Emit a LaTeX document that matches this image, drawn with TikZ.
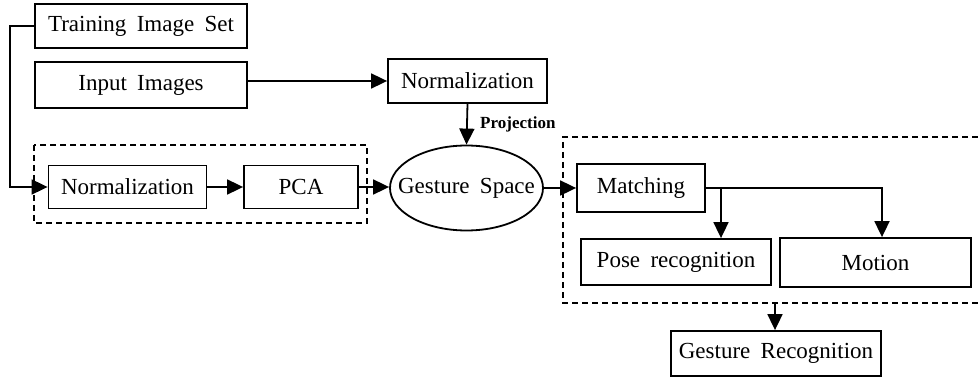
\documentclass[tikz,border=0pt]{standalone}
\usepackage{fontspec}
\setmainfont{Liberation Serif}[WordSpace=1.8]
\usetikzlibrary{arrows.meta,shapes.geometric}
\begin{document}
\begin{tikzpicture}[x=1pt,y=-1pt,
  box/.style={draw,line width=1.8pt,rectangle,inner sep=0pt,font=\fontsize{23}{27}\selectfont},
  oval/.style={draw,line width=1.8pt,ellipse,inner sep=0pt,font=\fontsize{23}{27}\selectfont},
  conn/.style={line width=1.8pt,-{Triangle[length=16pt,width=15pt]}},
  dbox/.style={line width=1.6pt,dash pattern=on 6pt off 4pt}]
\useasboundingbox (0,0) rectangle (978,377);
\node[box,minimum width=212pt,minimum height=44pt] (train) at (141,26) {Training Image Set};
\node[box,minimum width=212pt,minimum height=46pt] (input) at (141,85) {Input Images};
\node[box,minimum width=159pt,minimum height=44pt] (norm2) at (467.5,81) {Normalization};
\node[box,minimum width=158pt,minimum height=43pt] (norm1) at (127.5,187) {Normalization};
\node[box,minimum width=114pt,minimum height=43pt] (pca) at (301,187) {PCA};
\node[oval,minimum width=153pt,minimum height=85pt] (gs) at (466.5,188) {\makebox[0pt]{Gesture Space}};
\node[box,minimum width=128pt,minimum height=48pt] (match) at (641,188) {Matching};
\node[box,minimum width=190pt,minimum height=46pt] (pose) at (676,262) {Pose recognition};
\node[box,minimum width=191pt,minimum height=49pt] (motion) at (875.5,262.5) {Motion};
\node[box,minimum width=210pt,minimum height=45pt] (gr) at (776,353.5) {Gesture Recognition};
% dashed groups
\draw[dbox] (34,145) rectangle (367,223);
\draw[dbox] (978,137) -- (563,137) -- (563,303) -- (978,303);
\coordinate (tl) at (10,26);
\coordinate (bl) at (10,187);
\coordinate (bp) at (721,188);
\coordinate (bm) at (882,188);
\coordinate (gbot) at (775,303);
% connectors
\draw[conn] (train.west) -- (tl) -- (bl) -- (norm1.west);
\draw[conn] (input.east |- norm2.west) -- (norm2.west);
\draw[conn] (norm2.south) -- node[right=9pt,font=\fontsize{17}{19}\selectfont\bfseries]{Projection} (gs.north);
\draw[conn] (norm1.east) -- (pca.west);
\draw[conn] (pca.east) -- (pca.east -| gs.west);
\draw[conn] (gs.east) -- (match.west);
\draw[conn] (match.east) -- (bm) -- (bm |- motion.north);
\draw[conn] (bp) -- (bp |- pose.north);
\draw[conn] (gbot) -- (gbot |- gr.north);
\end{tikzpicture}
\end{document}
